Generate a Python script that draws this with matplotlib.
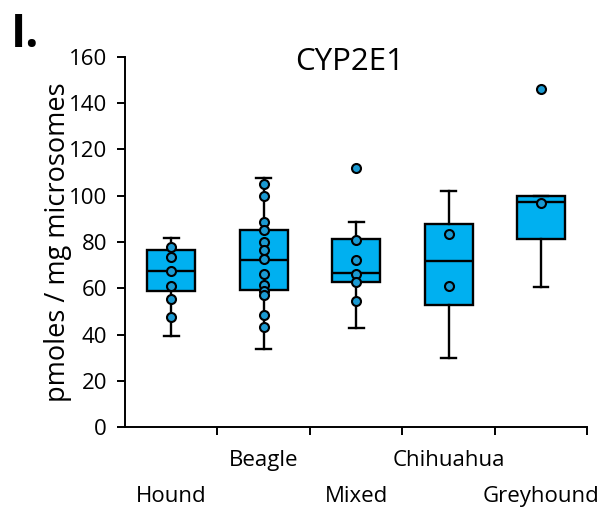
import matplotlib
matplotlib.use("Agg")
from matplotlib import pyplot as plt
import matplotlib.transforms as mtransforms

plt.rcParams['font.family'] = ['Open Sans', 'DejaVu Sans']

# category names and box statistics
breeds = ['Hound', 'Beagle', 'Mixed', 'Chihuahua', 'Greyhound']
whisker_low = [39.3, 34.0, 42.9, 29.7, 60.7]
box_low = [59.0, 59.2, 62.6, 53.0, 81.3]
medians = [67.6, 72.2, 66.7, 71.9, 97.4]
box_high = [76.5, 85.2, 81.2, 87.6, 99.9]
whisker_high = [81.7, 107.5, 88.8, 102.2, 99.9]

# individual animals
hound_pts = [77.7, 73.6, 67.6, 61.0, 55.5, 47.7]
beagle_pts = [105.0, 99.9, 88.8, 85.2, 80.1, 76.5, 72.5, 66.2, 61.4, 59.0, 57.1, 48.4, 43.4]
mixed_pts = [111.9, 80.9, 72.2, 66.0, 62.6, 54.6]
chihuahua_pts = [83.5, 61.0]
greyhound_pts = [146.2, 97.0]
points = [hound_pts, beagle_pts, mixed_pts, chihuahua_pts, greyhound_pts]

box_color = '#00B0F0'
dot_color = '#1B9AD2'

fig = plt.figure(figsize=(6.13, 5.08), dpi=100)
ax = fig.add_axes([0.204, 0.159, 0.754, 0.729])

stats = []
for i, name in enumerate(breeds):
    stats.append({
        'label': name,
        'whislo': whisker_low[i],
        'q1': box_low[i],
        'med': medians[i],
        'q3': box_high[i],
        'whishi': whisker_high[i],
        'fliers': [],
    })

positions = list(range(1, len(breeds) + 1))
ax.bxp(stats, positions=positions, widths=0.52, patch_artist=True,
       showfliers=False,
       boxprops=dict(facecolor=box_color, edgecolor='black', linewidth=1.7),
       medianprops=dict(color='black', linewidth=1.7),
       whiskerprops=dict(color='black', linewidth=1.7),
       capprops=dict(color='black', linewidth=1.7),
       capwidths=0.16, zorder=2)

for pos, pts in zip(positions, points):
    ax.scatter([pos] * len(pts), pts, s=42, facecolor=dot_color,
               edgecolor='black', linewidth=1.5, zorder=3)

ax.set_xlim(0.5, 5.5)
ax.set_ylim(0, 160)
ax.set_yticks(range(0, 161, 20))
ax.set_xticks([1.5, 2.5, 3.5, 4.5, 5.5])
ax.set_xticklabels([])
ax.tick_params(axis='both', direction='out', length=6, width=1.4, labelsize=16)
ax.tick_params(axis='y', pad=7)

for side in ['top', 'right']:
    ax.spines[side].set_visible(False)
for side in ['left', 'bottom']:
    ax.spines[side].set_linewidth(1.4)

# staggered category labels like the Excel original
trans = mtransforms.blended_transform_factory(ax.transData, fig.transFigure)
for i, name in enumerate(breeds):
    ypos = 0.012 if i % 2 == 0 else 0.083
    ax.text(positions[i], ypos, name, transform=trans, ha='center', va='baseline',
            fontsize=16)

ax.set_ylabel('pmoles / mg microsomes', fontsize=19.5, labelpad=-2)

title_trans = mtransforms.blended_transform_factory(ax.transData, ax.transAxes)
ax.text(2.93, 0.986, 'CYP2E1', transform=title_trans, ha='center', va='center',
        fontsize=22.5)

fig.text(0.018, 0.978, 'I.', fontsize=33, fontweight='bold', va='top', ha='left')

fig.savefig('out.png', dpi=100)
